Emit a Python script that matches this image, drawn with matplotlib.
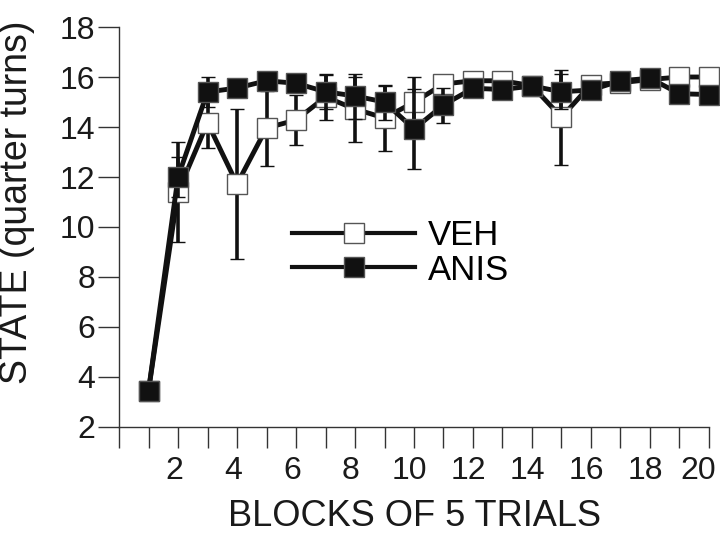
import numpy as np
import matplotlib
matplotlib.use("Agg")
import matplotlib.pyplot as plt
import matplotlib.transforms as mtransforms
from matplotlib.lines import Line2D

plt.rcParams['font.family'] = ['Liberation Sans', 'DejaVu Sans']

# ------------------- Данные -------------------
blocks = np.arange(1, 21)
veh = [3.45, 11.4, 14.17, 11.72, 13.96, 14.28, 15.2, 14.72, 14.36, 14.99,
       15.72, 15.85, 15.85, 15.65, 14.39, 15.7, 15.77, 15.9, 16.0, 16.0]
veh_err = [0.1, 2.0, 1.0, 3.0, 1.5, 1.0, 0.9, 1.3, 1.3, 1.0,
           0.3, 0.2, 0.2, 0.2, 1.9, 0.3, 0.2, 0.2, 0.2, 0.2]
anis = [3.45, 12.0, 15.4, 15.56, 15.85, 15.75, 15.41, 15.24, 15.0, 13.92,
        14.88, 15.55, 15.5, 15.64, 15.41, 15.48, 15.85, 15.95, 15.33, 15.3]
anis_err = [0.1, 0.8, 0.6, 0.3, 0.2, 0.2, 0.7, 0.9, 0.7, 1.6,
            0.7, 0.2, 0.2, 0.2, 0.7, 0.3, 0.2, 0.2, 0.3, 0.2]
x_ticks = np.arange(0, 21)
x_labels = ['' if (t % 2 or t == 0) else str(t) for t in x_ticks]
y_ticks = np.arange(2, 19, 2)

# ------------------- График -------------------
fig = plt.figure(figsize=(7.2, 5.36), dpi=100)
ax = fig.add_axes([0.1653, 0.2034, 0.8194, 0.7462])

ax.errorbar(blocks, veh, yerr=veh_err, fmt='-s', color='#111111', lw=3.5,
            elinewidth=2.6, capsize=5, capthick=2.6, ms=14, mfc='white',
            mec='#555555', mew=1.0, clip_on=False, zorder=3, label='VEH')
ax.errorbar(blocks, anis, yerr=anis_err, fmt='-s', color='#111111', lw=3.5,
            elinewidth=2.6, capsize=5, capthick=2.6, ms=14, mfc='#111111',
            mec='#555555', mew=1.0, clip_on=False, zorder=4, label='ANIS')

ax.set_xlim(0, 20)
ax.set_ylim(2, 18)
ax.set_xticks(x_ticks)
ax.set_xticklabels(x_labels)
ax.set_yticks(y_ticks)

for s in ['top', 'right']:
    ax.spines[s].set_visible(False)
for s in ['left', 'bottom']:
    ax.spines[s].set_linewidth(1.0)
    ax.spines[s].set_color('#333333')

ax.tick_params(axis='both', direction='out', length=15, width=1.0,
               color='#333333', labelsize=23, labelcolor='#1a1a1a')
ax.tick_params(axis='x', pad=6)
ax.tick_params(axis='y', pad=2)

# подписи по X чуть левее делений, последняя "20" сильнее, чтобы не обрезалась
labels = ax.get_xticklabels()
for k, lab in enumerate(labels):
    dx = -8 if k == len(labels) - 1 else -3
    lab.set_transform(lab.get_transform() +
                      mtransforms.ScaledTranslation(dx / 72, 0, fig.dpi_scale_trans))

ax.set_xlabel('BLOCKS OF 5 TRIALS', fontsize=26, color='#1a1a1a', labelpad=9)
ax.set_ylabel('STATE (quarter turns)', fontsize=27, color='#1a1a1a')
ax.yaxis.set_label_coords(-0.142, 0.5625)

handles = [Line2D([], [], color='#111111', lw=3.0, marker='s', ms=14,
                  mfc='white', mec='#555555', mew=1.0),
           Line2D([], [], color='#111111', lw=3.0, marker='s', ms=14,
                  mfc='#111111', mec='#555555', mew=1.0)]
ax.legend(handles, ['VEH', 'ANIS'], loc='upper left', bbox_to_anchor=(0.27, 0.555),
          frameon=False, fontsize=25, handlelength=3.55, handletextpad=0.35,
          labelspacing=0.05, borderaxespad=0)

fig.savefig('out.png', dpi=100)
